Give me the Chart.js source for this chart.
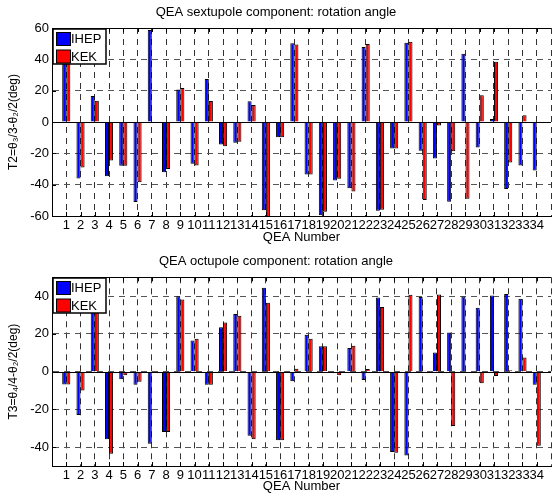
<!DOCTYPE html>
<html>
<head>
<meta charset="utf-8">
<script src="https://cdn.jsdelivr.net/npm/chart.js@4"></script>
<style>
  html, body { margin: 0; padding: 0; background: #fff; }
  canvas { display: block; }
</style>
</head>
<body>
<canvas id="sextChart" width="553" height="248"></canvas>
<canvas id="octChart" width="553" height="249"></canvas>
<script>
var qea = [1, 2, 3, 4, 5, 6, 7, 8, 9, 10, 11, 12, 13, 14, 15, 16, 17, 18, 19, 20,
    21, 22, 23, 24, 25, 26, 27, 28, 29, 30, 31, 32, 33, 34];

var sextIhep = [46, -36, 16.6, -34.7, -28, -51, 58.7, -32, 20.8, -26.6, 27.4, -14.3, -13.2, 13.2, -56.4, -9.8, 50.2,
    -33.5, -59.6, -37.4, -42.3, 47.9, -56.6, -16.9, 50.6, -18.4, -23.3, -50.9, 43.6, -16.2, 1.9, -42.7, -27.8, -31];
var sextKek = [44, -29, 13.6, -24.5, -28, -38.5, 0, -30, 21.7, -27.7, 13.4, -15.5, -12.6, 10.9, -61, -9.8, 49.4,
    -33.5, -57.3, -36.3, -44.4, 49.8, -56, -16.9, 51.3, -49.8, -2.3, -18.6, -49, 17.1, 38.5, -25.9, 4.3, 0];

var octIhep = [-6.8, -23, 36, -35.8, -4, -7, -38.2, -32, 40, 16.5, -7, 23.5, 30.5, -34, 44.4, -36.3, -5.1,
    19.6, 13.5, -0.5, 12.5, -4.4, 39.3, -42.6, -44.4, 39.5, 10.2, 20.7, 39.8, 33.9, 40.4, 41.2, 38.6, -7];
var octKek = [-6.8, -10, 33, -43.5, -1.9, -5.3, 0, -32, 38.2, 17.5, -7, 26, 29.6, -35.8, 36.5, -36.3, 1.6,
    17.5, 13.5, -1.9, 13.7, 1.4, 34.2, -43, 40.7, 0.5, 40.9, -28.8, -0.4, -6.1, -2.3, 0.7, 7.5, -39.3];

var sextTicks = [-60, -40, -20, 0, 20, 40, 60];
var octTicks = [-40, -20, 0, 20, 40];

var FONT = '"Liberation Sans", Arial, Helvetica, sans-serif';

// box, zero line and inward ticks like the matlab axes
var frame = {
    id: 'frame',
    afterDatasetsDraw: function (chart) {
        var ctx = chart.ctx, a = chart.chartArea;
        var xs = chart.scales.x, ys = chart.scales.y;
        var y0 = Math.round(ys.getPixelForValue(0)) + 0.5;
        ctx.save();
        ctx.strokeStyle = '#000';
        ctx.lineWidth = 1;
        ctx.beginPath();
        ctx.moveTo(a.left, y0);
        ctx.lineTo(a.right, y0);
        var top = Math.round(a.top) + 0.5;
        ctx.moveTo(a.left, top);
        ctx.lineTo(a.right, top);
        qea.forEach(function (q) {
            var px = Math.round(xs.getPixelForValue(q)) + 0.5;
            ctx.moveTo(px, a.bottom);
            ctx.lineTo(px, a.bottom - 4);
            ctx.moveTo(px, a.top);
            ctx.lineTo(px, a.top + 4);
        });
        ys.ticks.forEach(function (t) {
            var py = Math.round(ys.getPixelForValue(t.value)) + 0.5;
            ctx.moveTo(a.left, py);
            ctx.lineTo(a.left + 4, py);
        });
        ctx.stroke();
        ctx.restore();
    }
};

var legendBox = {
    id: 'legendBox',
    afterDraw: function (chart) {
        var ctx = chart.ctx, a = chart.chartArea;
        var x = Math.round(a.left) + 1, y = Math.round(a.top) + 1;
        ctx.save();
        ctx.fillStyle = '#fff';
        ctx.fillRect(x, y, 53, 35);
        ctx.strokeStyle = '#000';
        ctx.lineWidth = 1.5;
        ctx.strokeRect(x, y, 53, 35);
        ctx.lineWidth = 1;
        ctx.font = '13px ' + FONT;
        ctx.textBaseline = 'middle';
        chart.data.datasets.forEach(function (ds, i) {
            var sy = y + 3.5 + i * 17.5;
            ctx.fillStyle = ds.backgroundColor;
            ctx.fillRect(x + 3.5, sy, 14, 13);
            ctx.strokeRect(x + 3.5, sy, 14, 13);
            ctx.fillStyle = '#000';
            ctx.fillText(ds.label, x + 18, sy + 7);
        });
        ctx.restore();
    }
};

function drawChart(id, title, yTitle, ihep, kek, ticks, yMin, yMax, opts) {
    var ctx = document.getElementById(id).getContext('2d');
    return new Chart(ctx, {
        type: 'bar',
        data: {
            datasets: [{
                label: 'IHEP',
                data: qea.map(function (q, i) { return { x: q, y: ihep[i] }; }),
                backgroundColor: '#0000ff',
                borderColor: '#000',
                borderWidth: 1
            }, {
                label: 'KEK',
                data: qea.map(function (q, i) { return { x: q, y: kek[i] }; }),
                backgroundColor: '#ff0000',
                borderColor: '#000',
                borderWidth: 1
            }]
        },
        options: {
            responsive: false,
            animation: false,
            categoryPercentage: 0.57,
            barPercentage: 1,
            layout: { padding: { left: 0, right: 1, top: 0, bottom: 0 } },
            plugins: {
                legend: { display: false },
                tooltip: { enabled: false },
                title: {
                    display: true,
                    text: title,
                    color: '#000',
                    font: { family: FONT, size: 13, weight: 'normal' },
                    padding: opts.titlePad
                }
            },
            scales: {
                x: {
                    type: 'linear',
                    min: 0,
                    max: 35,
                    offset: false,
                    afterBuildTicks: function (scale) {
                        scale.ticks = [0].concat(qea, [35]).map(function (v) { return { value: v }; });
                    },
                    afterFit: function (scale) { scale.height = opts.xHeight; },
                    ticks: {
                        autoSkip: false,
                        maxRotation: 0,
                        padding: 2,
                        color: '#000',
                        font: { family: FONT, size: 13 },
                        callback: function (v) { return (v === 0 || v === 35) ? '' : v; }
                    },
                    grid: { offset: false, drawTicks: false, color: '#333', lineWidth: 1 },
                    border: { display: true, color: '#000', width: 1, dash: [6, 5] },
                    title: {
                        display: true,
                        text: 'QEA Number',
                        color: '#000',
                        font: { family: FONT, size: 13 },
                        padding: { top: 0, bottom: 3 }
                    }
                },
                y: {
                    min: yMin,
                    max: yMax,
                    afterBuildTicks: function (scale) {
                        scale.ticks = ticks.map(function (v) { return { value: v }; });
                    },
                    afterFit: function (scale) { scale.width = 52; },
                    ticks: {
                        padding: 3,
                        color: '#000',
                        font: { family: FONT, size: 13 }
                    },
                    grid: { drawTicks: false, color: '#555', lineWidth: 1 },
                    border: { display: true, color: '#000', width: 1, dash: [6, 5] },
                    title: {
                        display: true,
                        text: yTitle,
                        color: '#000',
                        font: { family: FONT, size: 12 },
                        padding: { top: 6, bottom: 0 }
                    }
                }
            }
        },
        plugins: [frame, legendBox]
    });
}

drawChart('sextChart', 'QEA sextupole component: rotation angle', 'T2=θ₃/3-θ₂/2(deg)',
    sextIhep, sextKek, sextTicks, -60, 60,
    { titlePad: { top: 5, bottom: 7.4 }, xHeight: 32 });

drawChart('octChart', 'QEA octupole component: rotation angle', 'T3=θ₄/4-θ₂/2(deg)',
    octIhep, octKek, octTicks, -50, 50,
    { titlePad: { top: 5.7, bottom: 8 }, xHeight: 31 });
</script>
</body>
</html>
